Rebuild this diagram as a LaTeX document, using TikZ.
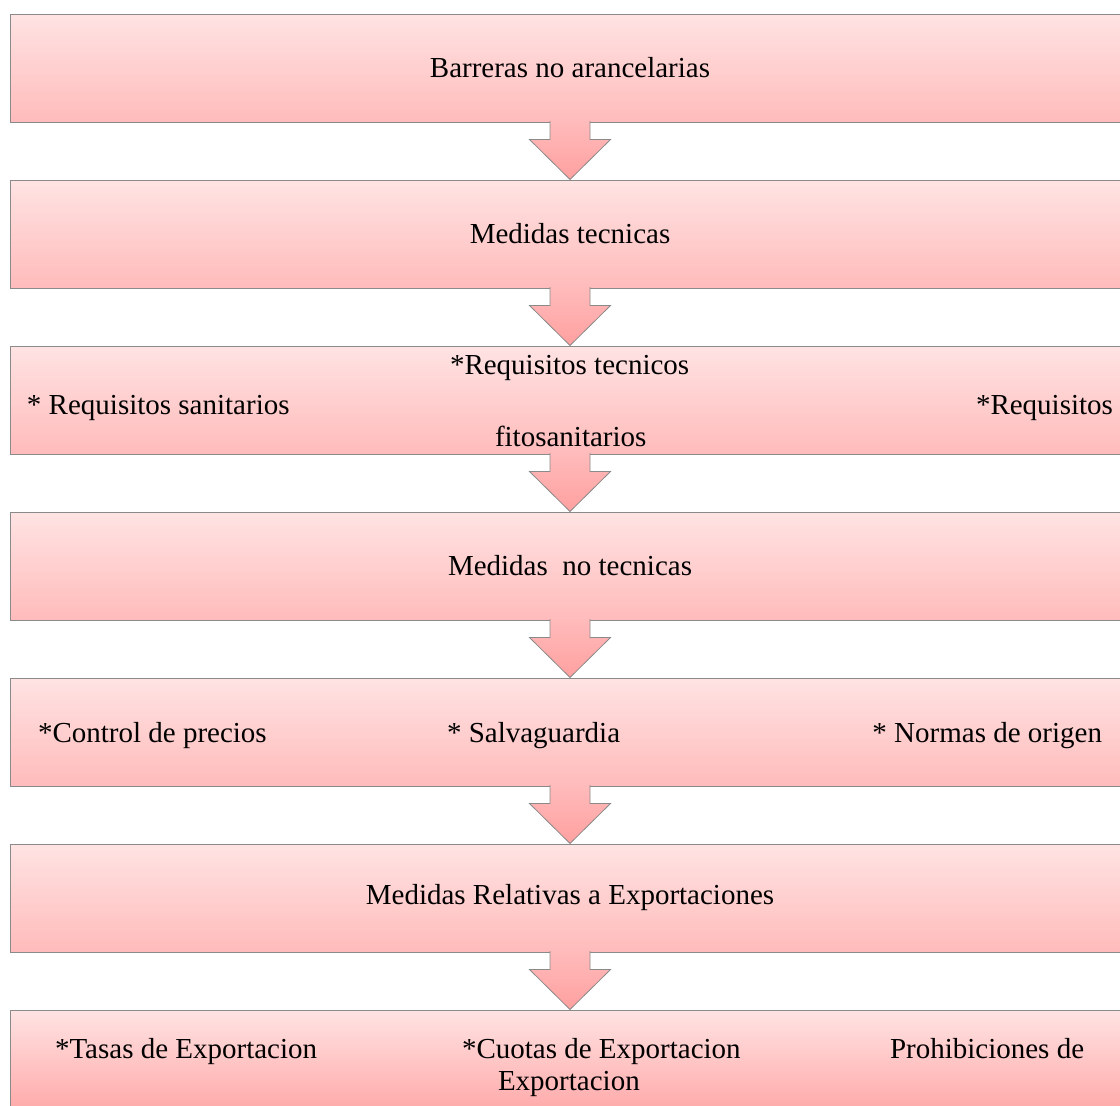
\documentclass[tikz,border=0pt]{standalone}
\usepackage{fontspec}
\setmainfont{Liberation Serif}
\usetikzlibrary{positioning, calc}

\begin{document}
\begin{tikzpicture}[x=1pt, y=1pt, node distance=57pt, font=\fontsize{29}{34}\selectfont, line width=1pt]
        % Define colors
        \definecolor{boxtop}{RGB}{255,227,227}
        \definecolor{boxbottom}{RGB}{255,187,187}
        \definecolor{boxdeep}{RGB}{255,165,165}
        \definecolor{arrowbottom}{RGB}{255,160,160}
        \definecolor{edgegray}{RGB}{138,138,138}
        \tikzset{
            box/.style={draw=edgegray, rectangle, minimum width=1120pt, minimum height=108pt, top color=boxtop, bottom color=boxbottom, inner sep=0pt},
            etiqueta/.style={anchor=base west, inner sep=0pt},
            flecha/.style={draw=edgegray, line width=0.8pt, top color=boxbottom, bottom color=arrowbottom}
        }
        \useasboundingbox (0,0) rectangle (1120,-1106);

        % Boxes
        \node[box] (barreras) at (570,-68) {Barreras no arancelarias};
        \node[box, below=of barreras] (tecnicas) {Medidas tecnicas};
        \node[box, below=of tecnicas] (requisitos) {};
        \node[box, below=of requisitos] (notecnicas) {Medidas\ \ no tecnicas};
        \node[box, below=of notecnicas] (controles) {};
        \node[box, below=of controles] (exportaciones) {Medidas Relativas a Exportaciones};
        \node[box, below=of exportaciones, bottom color=boxdeep] (tasas) {};

        % Texts
        \node[etiqueta] (sanitarios) at ($(requisitos.west)+(17,-14)$) {* Requisitos sanitarios};
        \node[etiqueta] (tecnicos) at ($(requisitos.west)+(440,26)$) {*Requisitos tecnicos};
        \node[etiqueta] (fito) at ($(requisitos.west)+(966,-14)$) {*Requisitos};
        \node[etiqueta] (fito2) at ($(requisitos.west)+(485,-46)$) {fitosanitarios};
        \node[etiqueta] (precios) at ($(controles.west)+(28,-10)$) {*Control de precios};
        \node[etiqueta] (salva) at ($(controles.west)+(437,-10)$) {* Salvaguardia};
        \node[etiqueta, anchor=base east] (origen) at ($(controles.west)+(1093,-10)$) {* Normas de origen};
        \node[etiqueta] (tasasexp) at ($(tasas.west)+(45,6)$) {*Tasas de Exportacion};
        \node[etiqueta] (cuotas) at ($(tasas.west)+(452,6)$) {*Cuotas de Exportacion};
        \node[etiqueta] (cuotas2) at ($(tasas.west)+(488,-26)$) {Exportacion};
        \node[etiqueta] (prohibiciones) at ($(tasas.west)+(880,6)$) {Prohibiciones de};

        % Arrows
        \foreach \a/\b in {barreras/tecnicas, tecnicas/requisitos, requisitos/notecnicas, notecnicas/controles, controles/exportaciones, exportaciones/tasas} {
            \draw[flecha] ($(\a.south)+(-20,1.5)$) -- ($(\a.south)+(-20,-17)$) -- ($(\a.south)+(-40.5,-17)$) -- (\b.north) -- ($(\a.south)+(40.5,-17)$) -- ($(\a.south)+(20,-17)$) -- ($(\a.south)+(20,1.5)$);
        }
    \end{tikzpicture}
\end{document}
